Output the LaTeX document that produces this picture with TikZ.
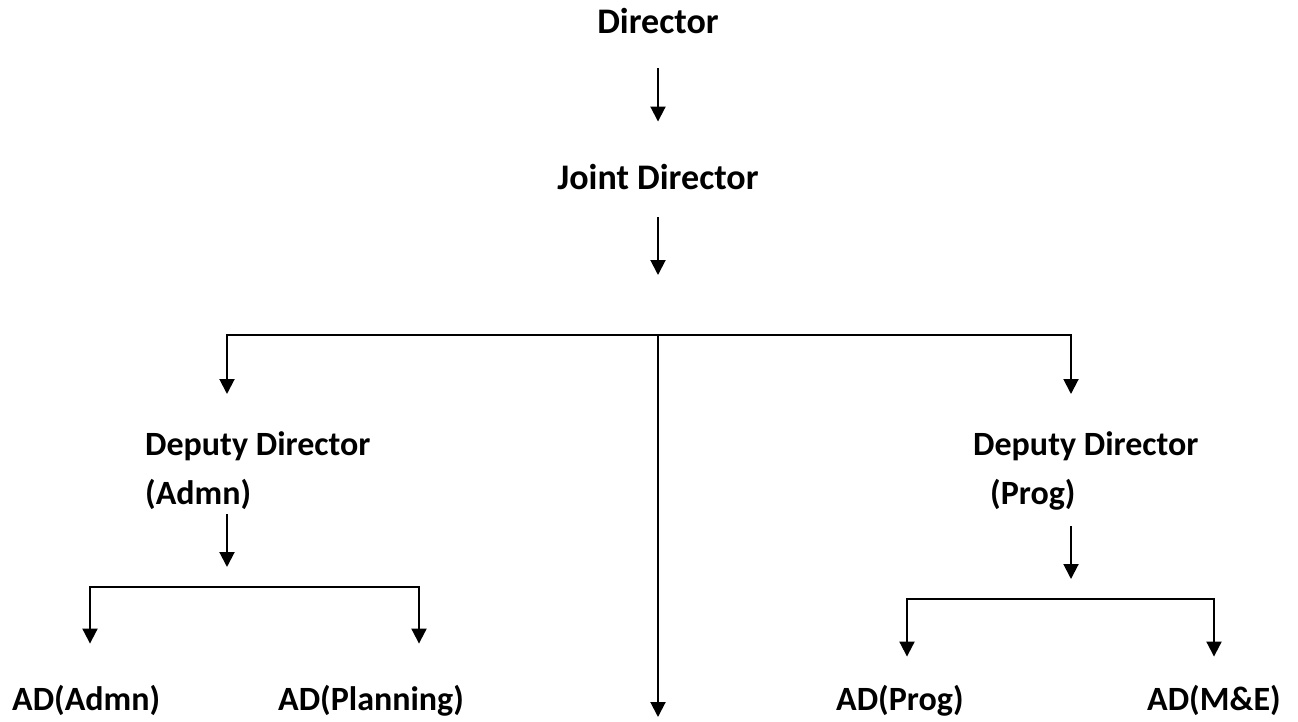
\documentclass[tikz,border=0pt]{standalone}
\usepackage{fontspec}
\setmainfont{Carlito}
\usetikzlibrary{arrows.meta}
\begin{document}
\begin{tikzpicture}[x=1pt,y=-1pt,
 lbl/.style={inner sep=0pt, font=\fontsize{34}{49}\selectfont\bfseries},
 big/.style={inner sep=0pt, font=\fontsize{36}{44}\selectfont\bfseries},
 arr/.style={line width=2pt, -{Triangle[width=15pt,length=15pt]}},
 ln/.style={line width=2pt}]
\useasboundingbox (0,0) rectangle (1298,722);
% nodes
\node[big,anchor=base] (dir) at (658,34) {Director};
\node[big,anchor=base] (jd) at (658,190) {Joint Director};
\node[lbl,anchor=north west,align=left] (dda) at (145,431) {Deputy Director\\(Admn)};
\node[lbl,anchor=north west,align=left] (ddp) at (973,431) {Deputy Director\\\hspace*{17pt}(Prog)};
\node[lbl,anchor=base west] (ada) at (12,710) {AD(Admn)};
\node[lbl,anchor=base west] (adpl) at (278,710) {AD(Planning)};
\node[lbl,anchor=base west] (adpr) at (836,710) {AD(Prog)};
\node[lbl,anchor=base west] (adme) at (1147,710) {AD(M\&E)};
% coordinates
\coordinate (jdend) at (658,275);
\coordinate (barM) at (658,335);
\coordinate (barL) at (227,335);
\coordinate (barR) at (1071,335);
\coordinate (cend) at (658,717);
\coordinate (ddaend) at (227,567);
\coordinate (ddpend) at (1071,579);
\coordinate (b2M) at (227,587);
\coordinate (b2L) at (90,587);
\coordinate (b2R) at (419,587);
\coordinate (b3M) at (1071,599);
\coordinate (b3L) at (907,599);
\coordinate (b3R) at (1214,599);
% connectors
\draw[arr,shorten <=34pt,shorten >=43pt] (dir.south) -- (jd.north);
\draw[arr,shorten <=27pt] (jd.south) -- (jdend);
\draw[arr,shorten >=37pt] (barM) -- (barL) -- (barL |- dda.north);
\draw[arr,shorten >=37pt] (barM) -- (barR) -- (barR |- ddp.north);
\draw[arr] (barM) -- (cend);
\draw[arr,shorten <=5pt] (ddaend |- dda.south) -- (ddaend);
\draw[arr,shorten <=16pt] (ddpend |- ddp.south) -- (ddpend);
\draw[arr,shorten >=41pt] (b2M) -- (b2L) -- (b2L |- ada.north);
\draw[arr,shorten >=41pt] (b2M) -- (b2R) -- (b2R |- adpl.north);
\draw[arr,shorten >=28pt] (b3M) -- (b3L) -- (b3L |- adpr.north);
\draw[arr,shorten >=28pt] (b3M) -- (b3R) -- (b3R |- adme.north);
\end{tikzpicture}
\end{document}
